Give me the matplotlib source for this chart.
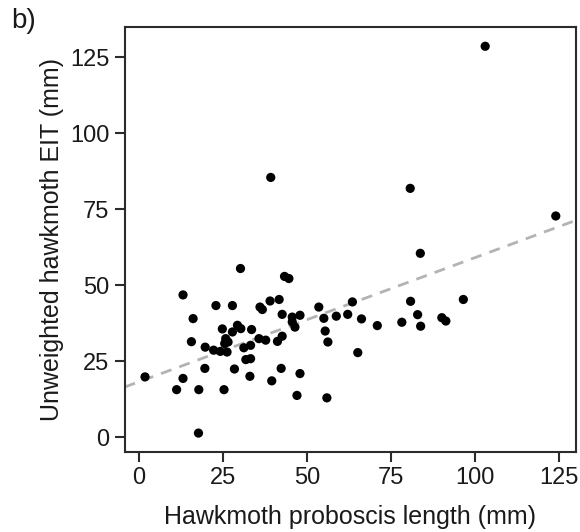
import numpy as np
import matplotlib.pyplot as plt

plt.rcParams['font.family'] = ['Liberation Sans', 'DejaVu Sans']

# proboscis length (mm) vs unweighted EIT (mm)
proboscis = [1.8, 13.1, 16.1, 15.6, 13.1, 11.2, 17.8, 17.7, 19.6, 19.7,
             22.9, 22.2, 24.2, 25.3, 24.8, 25.8, 26.5, 25.5, 26.2, 27.8,
             27.8, 29.3, 30.3, 28.4, 30.2, 31.2, 33.2, 31.8, 33.2, 33.0,
             33.5, 35.7, 37.7, 36.0, 36.7, 39.0, 39.5, 41.7, 42.6, 41.2,
             42.6, 42.3, 43.3, 44.6, 45.6, 47.9, 45.6, 46.4, 47.9, 47.0,
             53.5, 55.0, 55.4, 56.2, 55.9, 58.7, 62.1, 63.5, 66.2, 65.1,
             70.9, 78.2, 80.8, 82.9, 83.8, 83.7, 80.7, 90.1, 91.3, 96.5,
             124.0, 103.0, 39.2]
eit = [19.8, 46.8, 39.0, 31.4, 19.3, 15.6, 15.6, 1.3, 22.6, 29.6,
       43.3, 28.6, 28.2, 15.6, 35.6, 32.4, 31.3, 30.8, 28.0, 43.3,
       34.6, 36.8, 35.7, 22.4, 55.5, 29.4, 30.2, 25.5, 25.8, 20.0,
       35.4, 32.4, 31.9, 42.8, 42.0, 44.8, 18.5, 45.3, 40.4, 31.5,
       33.2, 22.6, 52.9, 52.2, 39.5, 40.1, 37.9, 36.2, 20.9, 13.7,
       42.8, 39.1, 34.9, 31.3, 12.9, 39.8, 40.4, 44.5, 38.9, 27.8,
       36.7, 37.8, 44.7, 40.3, 36.5, 60.5, 81.9, 39.3, 38.2, 45.3,
       72.8, 128.7, 85.5]

# fitted line (intercept, slope) as read from the dashed trend
fit_intercept = 18.2
fit_slope = 0.409

x_ticks = [0, 25, 50, 75, 100, 125]
y_ticks = [0, 25, 50, 75, 100, 125]

fig = plt.figure(figsize=(5.8, 5.32), dpi=100)
ax = fig.add_axes([0.2147, 0.150, 0.7783, 0.799])

ax.axline((0, fit_intercept), slope=fit_slope, color='#b3b3b3', lw=2,
          ls=(0, (4, 3)), zorder=1)
ax.scatter(proboscis, eit, s=44, color='black', edgecolors='none', zorder=2)

ax.set_xlim(-4.3, 130)
ax.set_ylim(-5, 135)
ax.set_xticks(x_ticks)
ax.set_yticks(y_ticks)

for sp in ax.spines.values():
    sp.set_color('#2b2b2b')
    sp.set_linewidth(1.5)
ax.tick_params(axis='both', length=7.5, width=1.5, color='#2b2b2b',
               labelsize=17, labelcolor='#1a1a1a', pad=3.5)

ax.set_xlabel('Hawkmoth proboscis length (mm)', fontsize=18, labelpad=11,
              color='#1a1a1a')
ax.set_ylabel('Unweighted hawkmoth EIT (mm)', fontsize=18, labelpad=4,
              color='#1a1a1a')

fig.text(0.02, 0.985, 'b)', fontsize=20, va='top', ha='left', color='#1a1a1a')

fig.savefig('out.png', dpi=100)
